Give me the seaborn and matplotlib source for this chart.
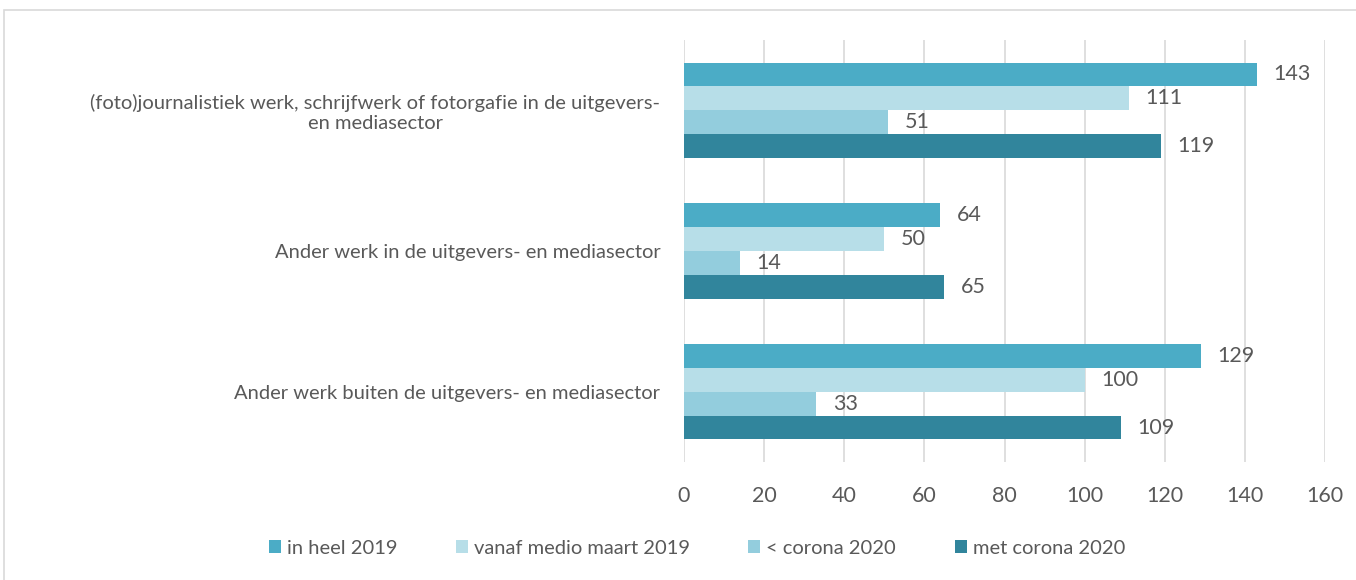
import matplotlib
matplotlib.use("Agg")
import matplotlib.pyplot as plt
import seaborn as sns
import pandas as pd
from matplotlib.patches import Rectangle

categories = [
    "(foto)journalistiek werk, schrijfwerk of fotorgafie in de uitgevers-\nen mediasector",
    "Ander werk in de uitgevers- en mediasector",
    "Ander werk buiten de uitgevers- en mediasector",
]
series = ["in heel 2019", "vanaf medio maart 2019", "< corona 2020", "met corona 2020"]
values_heel2019 = [143, 64, 129]
values_vanaf2019 = [111, 50, 100]
values_voor_corona = [51, 14, 33]
values_met_corona = [119, 65, 109]
colors = ["#4BACC6", "#B7DEE8", "#93CDDD", "#31859C"]
xticks = [0, 20, 40, 60, 80, 100, 120, 140, 160]

rows = []
for s, vals in zip(series, [values_heel2019, values_vanaf2019, values_voor_corona, values_met_corona]):
    for c, v in zip(categories, vals):
        rows.append({"cat": c, "serie": s, "val": v})
df = pd.DataFrame(rows)

sns.set_theme(style="white")
plt.rcParams['font.family'] = ['Lato', 'DejaVu Sans']
txt = "#595959"
fs = 15.5
fs_cat = 14.5

fig = plt.figure(figsize=(13.56, 5.8), dpi=100)
ax = fig.add_axes([684/1356, 1-462/580, (1325-684)/1356, (462-40)/580])
sns.barplot(data=df, y="cat", x="val", hue="serie", order=categories, hue_order=series,
            palette=colors, orient="h", width=0.68, ax=ax, saturation=1, legend=True,
            linewidth=0)

for cont in ax.containers:
    ax.bar_label(cont, padding=12, fontsize=fs, color=txt)

ax.set_xlim(0, 160)
ax.set_xticks(xticks)
ax.set_xticklabels([str(t) for t in xticks], fontsize=fs, color=txt)
ax.tick_params(axis='x', length=0, pad=17)
ax.tick_params(axis='y', length=0, pad=17)
for lab in ax.get_yticklabels():
    lab.set_fontsize(fs_cat)
    lab.set_color(txt)
    lab.set_multialignment('center')
ax.set_xlabel("")
ax.set_ylabel("")
ax.xaxis.grid(True, color="#D9D9D9", linewidth=1.2)
ax.set_axisbelow(True)
for sp in ax.spines.values():
    sp.set_visible(False)

h, l = ax.get_legend_handles_labels()
ax.legend_.remove()
fig.legend(h, l, loc="center", bbox_to_anchor=(0.514, 1-548/580), ncol=4, frameon=False,
           fontsize=fs_cat, labelcolor=txt, handlelength=0.6, handleheight=0.6,
           handletextpad=0.3, columnspacing=2.9)

fig.patches.append(Rectangle((4/1356, -0.05), 1.1, 1-10/580+0.05, transform=fig.transFigure,
                             fill=False, edgecolor="#D9D9D9", linewidth=1.2))

fig.savefig("out.png", dpi=100)
